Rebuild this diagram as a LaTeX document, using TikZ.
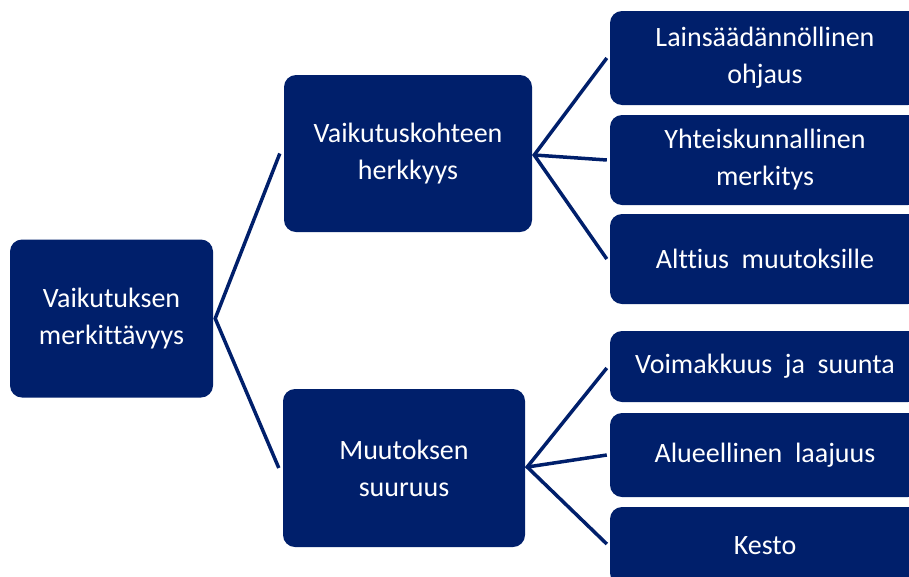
\documentclass[tikz,border=0pt]{standalone}
\usepackage{fontspec}
\setmainfont[Ligatures=NoCommon]{Carlito}
\definecolor{navy}{RGB}{0,31,107}
\begin{document}
\begin{tikzpicture}[x=1pt,y=-1pt,
  box/.style={fill=navy,draw=none,rounded corners=12pt,text=white,align=center,
    font=\fontsize{28}{37}\selectfont,inner sep=0pt},
  link/.style={draw=navy,line width=3.5pt}]
\useasboundingbox (0,0) rectangle (909,576);
\clip (0,0) rectangle (909,576);
% root
\node[box,minimum width=203pt,minimum height=158pt] (root) at (111.5,318.5) {Vaikutuksen\\merkittävyys};
% second level
\node[box,minimum width=248pt,minimum height=157pt] (sens) at (408,153.5) {Vaikutuskohteen\\herkkyys};
\node[box,minimum width=242pt,minimum height=158pt] (size) at (404,468) {Muutoksen\\suuruus};
% third level (running off the right edge)
\node[box,minimum width=310pt,minimum height=94pt] (r1) at (765,58) {Lainsäädännöllinen\\ohjaus};
\node[box,minimum width=310pt,minimum height=90pt] (r2) at (765,160) {Yhteiskunnallinen\\merkitys};
\node[box,minimum width=310pt,minimum height=90pt] (r3) at (765,259) {Alttius\ \ muutoksille};
\node[box,minimum width=310pt,minimum height=71pt] (r4) at (765,366.5) {Voimakkuus\ \ ja\ \ suunta};
\node[box,minimum width=310pt,minimum height=84pt] (r5) at (765,455) {Alueellinen\ \ laajuus};
\node[box,minimum width=310pt,minimum height=78pt] (r6) at (765,546) {Kesto};
% connector anchor points
\path (root.east) ++(2,0) coordinate (o1);
\path (sens.east) ++(2,1.5) coordinate (o2);
\path (size.east) ++(2,-1) coordinate (o3);
\path (sens.west) ++(-4,0) coordinate (e1);
\path (size.west) ++(-4,0) coordinate (e2);
\path (r1.west) ++(-3,0) coordinate (f1);
\path (r2.west) ++(-3,0) coordinate (f2);
\path (r3.west) ++(-3,0) coordinate (f3);
\path (r4.west) ++(-3,1.5) coordinate (f4);
\path (r5.west) ++(-3,0) coordinate (f5);
\path (r6.west) ++(-3,-2) coordinate (f6);
% connectors
\draw[link] (e1) -- (o1) -- (e2);
\draw[link] (f1) -- (o2) -- (f3);
\draw[link] (o2) -- (f2);
\draw[link] (f4) -- (o3) -- (f6);
\draw[link] (o3) -- (f5);
\end{tikzpicture}
\end{document}
